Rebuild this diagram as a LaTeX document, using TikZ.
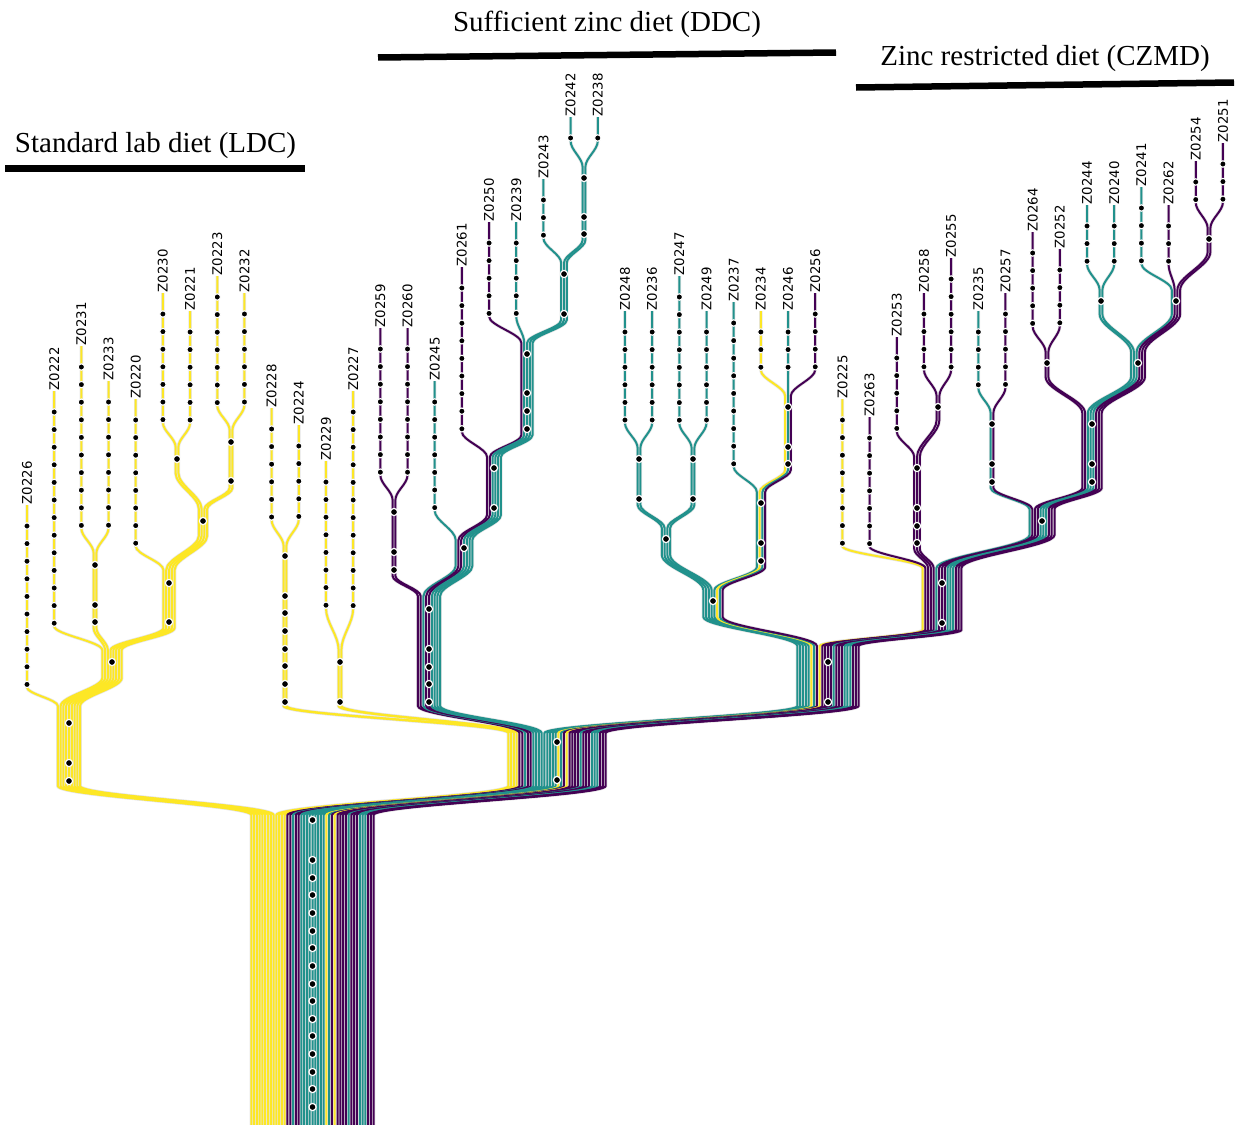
\documentclass[tikz,border=0pt]{standalone}
\usepackage{fontspec}
\newfontfamily\lblfont{DejaVu Sans}
\newfontfamily\ttlfont{Liberation Serif}
\definecolor{vy}{HTML}{FDE725}
\definecolor{vt}{HTML}{21918C}
\definecolor{vp}{HTML}{440154}

% lane spacing inside a bundle
\def\lw{2.78}

% tree node: name, centre x, top y, bottom y, first leaf index, number of leaves
\newcommand\defnode[6]{%
  \expandafter\xdef\csname nx@#1\endcsname{#2}%
  \expandafter\xdef\csname nt@#1\endcsname{#3}%
  \expandafter\xdef\csname nb@#1\endcsname{#4}%
  \expandafter\xdef\csname nf@#1\endcsname{#5}%
  \expandafter\xdef\csname nn@#1\endcsname{#6}%
}

% build the path of one lineage (leaf index #1) through the nodes listed in #2
\newcommand\lanepath[2]{%
  \gdef\pth{}\gdef\prevx{}\gdef\prevy{}%
  \foreach \nd in {#2}{%
    \pgfmathsetmacro\lx{\csname nx@\nd\endcsname+(#1-\csname nf@\nd\endcsname-(\csname nn@\nd\endcsname-1)/2)*\lw}%
    \edef\yt{\csname nt@\nd\endcsname}\edef\yb{\csname nb@\nd\endcsname}%
    \ifx\prevx\empty
      \xdef\pth{(\lx,\yt) -- (\lx,\yb)}%
    \else
      \pgfmathsetmacro\ka{\prevy+0.35*(\yt-\prevy)}%
      \pgfmathsetmacro\kb{\yt-0.35*(\yt-\prevy)}%
      \xdef\pth{\pth\space .. controls (\prevx,\ka) and (\lx,\kb) .. (\lx,\yt) -- (\lx,\yb)}%
    \fi
    \xdef\prevx{\lx}\xdef\prevy{\yb}%
  }%
}

% leaf: index, label, colour, first mutation y, number of mutations, ancestors
\newcommand\leaf[6]{%
  \pgfmathsetmacro\lfx{27+27.18*#1}%
  \pgfmathsetmacro\lft{#4-21}%
  \pgfmathsetmacro\lfb{#4+(#5-1)*17.6+3}%
  \defnode{L#1}{\lfx}{\lft}{\lfb}{#1}{1}%
  \lanepath{#1}{L#1,#6}%
  \expandafter\xdef\csname lp@#1\endcsname{\pth}%
  \expandafter\xdef\csname lc@#1\endcsname{#3}%
  \expandafter\xdef\csname ln@#1\endcsname{#2}%
  \expandafter\xdef\csname ld@#1\endcsname{#4}%
  \expandafter\xdef\csname lk@#1\endcsname{#5}%
}

% mutation dots on an internal node
\newcommand\ndots[2]{%
  \foreach \yy in {#2}{\filldraw[ndot] (\csname nx@#1\endcsname,\yy) circle[radius=3.6pt];}%
}

\begin{document}
\begin{tikzpicture}[x=1pt,y=-1pt,
  laneout/.style={line width=3.4pt, draw=black!10},
  lanein/.style={line width=2.0pt, draw=#1},
  ldot/.style={fill=black, draw=white, line width=1.1pt},
  ndot/.style={fill=black, draw=white, line width=1.2pt},
  lbl/.style={rotate=90, anchor=west, inner sep=0.6pt, font={\lblfont\fontsize{13.3}{15}\selectfont}},
  ttl/.style={anchor=base, inner sep=0pt, font={\ttlfont\fontsize{29}{34}\selectfont}},
  bar/.style={line width=6.5pt, draw=black}]
\useasboundingbox (0,0) rectangle (1238,1124);

% internal nodes of the tree
\defnode{ROOT}{312.5}{815}{1135}{0}{45}
\defnode{A}{69}{706}{786}{0}{9}
\defnode{N112}{112}{650}{678}{1}{8}
\defnode{N3133}{95}{553}{628}{2}{2}
\defnode{N169}{169}{570}{628}{4}{5}
\defnode{N203}{203}{509}{536}{5}{4}
\defnode{N3021}{177}{447}{473}{5}{2}
\defnode{N2332}{231}{430}{488}{7}{2}
\defnode{B}{557}{733}{786}{9}{36}
\defnode{N2824}{285}{546}{706}{9}{2}
\defnode{N2927}{340}{650}{706}{11}{2}
\defnode{D1}{429}{596}{706}{13}{9}
\defnode{N5960}{394}{500}{576}{13}{2}
\defnode{D2}{464}{540}{566}{15}{7}
\defnode{D3}{494}{457}{515}{16}{6}
\defnode{D4}{527}{343}{435}{17}{5}
\defnode{D5}{564}{263}{320}{19}{3}
\defnode{D6}{584}{167}{240}{20}{2}
\defnode{C1}{828}{646}{706}{22}{23}
\defnode{D7}{713}{590}{617}{22}{8}
\defnode{D8}{666}{528}{555}{22}{4}
\defnode{D10}{639}{448}{505}{22}{2}
\defnode{D11}{693}{448}{505}{24}{2}
\defnode{D9}{761}{492}{567}{26}{4}
\defnode{D12}{788}{396}{470}{27}{3}
\defnode{C2}{942}{568}{630}{30}{15}
\defnode{C3}{917}{457}{549}{32}{3}
\defnode{C5}{938}{396}{420}{33}{2}
\defnode{C4}{1042}{509}{535}{35}{10}
\defnode{C6}{992}{413}{488}{35}{2}
\defnode{C7}{1092}{413}{488}{37}{8}
\defnode{C8}{1047}{352}{377}{37}{2}
\defnode{C9}{1138}{352}{377}{39}{6}
\defnode{C10}{1101}{290}{314}{39}{2}
\defnode{C11}{1176}{290}{314}{41}{4}
\defnode{C12}{1209}{228}{252}{43}{2}

% lineages, left to right
\leaf{0}{Z0226}{vy}{526}{10}{A,ROOT}
\leaf{1}{Z0222}{vy}{412}{13}{N112,A,ROOT}
\leaf{2}{Z0231}{vy}{367}{10}{N3133,N112,A,ROOT}
\leaf{3}{Z0233}{vy}{402}{8}{N3133,N112,A,ROOT}
\leaf{4}{Z0220}{vy}{420}{8}{N169,N112,A,ROOT}
\leaf{5}{Z0230}{vy}{314}{7}{N3021,N203,N169,N112,A,ROOT}
\leaf{6}{Z0221}{vy}{332}{6}{N3021,N203,N169,N112,A,ROOT}
\leaf{7}{Z0223}{vy}{297}{7}{N2332,N203,N169,N112,A,ROOT}
\leaf{8}{Z0232}{vy}{314}{6}{N2332,N203,N169,N112,A,ROOT}
\leaf{9}{Z0228}{vy}{429}{6}{N2824,B,ROOT}
\leaf{10}{Z0224}{vy}{446}{5}{N2824,B,ROOT}
\leaf{11}{Z0229}{vy}{482}{8}{N2927,B,ROOT}
\leaf{12}{Z0227}{vy}{412}{12}{N2927,B,ROOT}
\leaf{13}{Z0259}{vp}{349}{8}{N5960,D1,B,ROOT}
\leaf{14}{Z0260}{vp}{349}{8}{N5960,D1,B,ROOT}
\leaf{15}{Z0245}{vt}{402}{7}{D2,D1,B,ROOT}
\leaf{16}{Z0261}{vp}{288}{9}{D3,D2,D1,B,ROOT}
\leaf{17}{Z0250}{vp}{243}{5}{D4,D3,D2,D1,B,ROOT}
\leaf{18}{Z0239}{vt}{243}{5}{D4,D3,D2,D1,B,ROOT}
\leaf{19}{Z0243}{vt}{200}{3}{D5,D4,D3,D2,D1,B,ROOT}
\leaf{20}{Z0242}{vt}{138}{1}{D6,D5,D4,D3,D2,D1,B,ROOT}
\leaf{21}{Z0238}{vt}{138}{1}{D6,D5,D4,D3,D2,D1,B,ROOT}
\leaf{22}{Z0248}{vt}{332}{6}{D10,D8,D7,C1,B,ROOT}
\leaf{23}{Z0236}{vt}{332}{6}{D10,D8,D7,C1,B,ROOT}
\leaf{24}{Z0247}{vt}{297}{8}{D11,D8,D7,C1,B,ROOT}
\leaf{25}{Z0249}{vt}{332}{6}{D11,D8,D7,C1,B,ROOT}
\leaf{26}{Z0237}{vt}{323}{9}{D9,D7,C1,B,ROOT}
\leaf{27}{Z0234}{vy}{332}{3}{D12,D9,D7,C1,B,ROOT}
\leaf{28}{Z0246}{vt}{332}{3}{D12,D9,D7,C1,B,ROOT}
\leaf{29}{Z0256}{vp}{314}{4}{D12,D9,D7,C1,B,ROOT}
\leaf{30}{Z0225}{vy}{420}{8}{C2,C1,B,ROOT}
\leaf{31}{Z0263}{vp}{438}{7}{C2,C1,B,ROOT}
\leaf{32}{Z0253}{vp}{358}{5}{C3,C2,C1,B,ROOT}
\leaf{33}{Z0258}{vp}{314}{4}{C5,C3,C2,C1,B,ROOT}
\leaf{34}{Z0255}{vp}{279}{6}{C5,C3,C2,C1,B,ROOT}
\leaf{35}{Z0235}{vt}{332}{4}{C6,C4,C2,C1,B,ROOT}
\leaf{36}{Z0257}{vp}{314}{5}{C6,C4,C2,C1,B,ROOT}
\leaf{37}{Z0264}{vp}{253}{5}{C8,C7,C4,C2,C1,B,ROOT}
\leaf{38}{Z0252}{vp}{270}{4}{C8,C7,C4,C2,C1,B,ROOT}
\leaf{39}{Z0244}{vt}{226}{3}{C10,C9,C7,C4,C2,C1,B,ROOT}
\leaf{40}{Z0240}{vt}{226}{3}{C10,C9,C7,C4,C2,C1,B,ROOT}
\leaf{41}{Z0241}{vt}{208}{4}{C11,C9,C7,C4,C2,C1,B,ROOT}
\leaf{42}{Z0262}{vp}{226}{3}{C11,C9,C7,C4,C2,C1,B,ROOT}
\leaf{43}{Z0254}{vp}{182}{2}{C12,C11,C9,C7,C4,C2,C1,B,ROOT}
\leaf{44}{Z0251}{vp}{164}{3}{C12,C11,C9,C7,C4,C2,C1,B,ROOT}

% light casing of every lineage first, then the coloured lines on top
\foreach \i in {0,...,44}{%
  \edef\tmp{\noexpand\draw[laneout] \csname lp@\i\endcsname;}\tmp}
\foreach \i in {0,...,44}{%
  \edef\tmp{\noexpand\draw[lanein=\csname lc@\i\endcsname] \csname lp@\i\endcsname;}\tmp}

% private mutations and sample names
\foreach \i in {0,...,44}{%
  \pgfmathsetmacro\lfx{27+27.18*\i}%
  \edef\dfirst{\csname ld@\i\endcsname}\edef\dcount{\csname lk@\i\endcsname}%
  \foreach \k in {1,...,\dcount}{\filldraw[ldot] (\lfx,{\dfirst+(\k-1)*17.6}) circle[radius=3.2pt];}%
  \node[lbl] (lab\i) at (\lfx,\dfirst-21) {\csname ln@\i\endcsname};%
}

% mutations on shared branches
\ndots{ROOT}{820,860,878,895,913,931,948,966,984,1001,1019,1036,1054,1072,1089,1107}
\ndots{A}{723,763,781}
\ndots{N112}{662}
\ndots{N3133}{565,605,622}
\ndots{N169}{583,622}
\ndots{N203}{521}
\ndots{N3021}{459}
\ndots{N2332}{442,481}
\ndots{B}{742,780}
\ndots{N2824}{556,596,613,631,649,666,684,702}
\ndots{N2927}{662,702}
\ndots{D1}{609,649,667,684,702}
\ndots{N5960}{512,552,570}
\ndots{D2}{548}
\ndots{D3}{468,508}
\ndots{D4}{354,393,411,429}
\ndots{D5}{274,314}
\ndots{D6}{178,217,234}
\ndots{C1}{662,702}
\ndots{D7}{601}
\ndots{D8}{539}
\ndots{D10}{459,499}
\ndots{D11}{459,499}
\ndots{D9}{503,543,561}
\ndots{D12}{407,447,464}
\ndots{C2}{583,623}
\ndots{C3}{468,508,526,543}
\ndots{C5}{407}
\ndots{C4}{521}
\ndots{C6}{424,464,482}
\ndots{C7}{424,464,482}
\ndots{C8}{363}
\ndots{C9}{363}
\ndots{C10}{301}
\ndots{C11}{301}
\ndots{C12}{239}

% diet groups
\node[ttl] (tldc) at (155.5,152) {Standard lab diet (LDC)};
\draw[bar] (5,168.5) -- (305,168.5);
\node[ttl] (tddc) at (607,32) {Sufficient zinc diet (DDC)};
\draw[bar] (378,57.5) -- (836,52.5);
\node[ttl] (tczmd) at (1045,66) {Zinc restricted diet (CZMD)};
\draw[bar] (856,87.5) -- (1234,82.5);
\end{tikzpicture}
\end{document}
